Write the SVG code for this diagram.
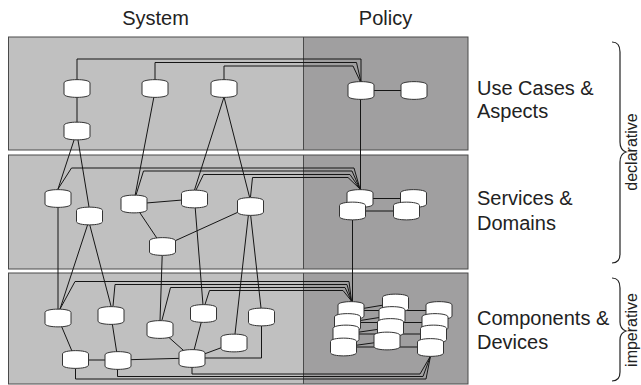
<svg xmlns="http://www.w3.org/2000/svg" xmlns:xlink="http://www.w3.org/1999/xlink" width="641" height="385" viewBox="0 0 641 385">
<style>
.sys{fill:#c0c0c0;stroke:none}
.pol{fill:#a09fa0;stroke:none}
.frame{fill:none;stroke:#4a4a4a;stroke-width:1}
.c{fill:none;stroke:#151515;stroke-width:1}
.n{fill:#fff;stroke:#333;stroke-width:1}
.t{font-family:"Liberation Sans",Arial,sans-serif;font-size:20px;fill:#222}
.v{font-family:"Liberation Sans",Arial,sans-serif;font-size:16px;fill:#222}
.br{fill:none;stroke:#222;stroke-width:1.2}
</style>
<defs>
<path id="cyl" d="M-13,-5.5 C-13,-10 13,-10 13,-5.5 L13,5.5 C13,10 -13,10 -13,5.5 Z"/>
</defs>
<g id="panels">
<rect class="sys" x="8.5" y="37" width="295" height="113"/>
<rect class="pol" x="303.5" y="37" width="164.5" height="113"/>
<rect class="frame" x="8.5" y="37" width="459.5" height="113"/>
<line class="frame" x1="303.5" y1="37" x2="303.5" y2="150"/>
<rect class="sys" x="8.5" y="155" width="295" height="114"/>
<rect class="pol" x="303.5" y="155" width="164.5" height="114"/>
<rect class="frame" x="8.5" y="155" width="459.5" height="114"/>
<line class="frame" x1="303.5" y1="155" x2="303.5" y2="269"/>
<rect class="sys" x="8.5" y="273" width="295" height="111"/>
<rect class="pol" x="303.5" y="273" width="164.5" height="111"/>
<rect class="frame" x="8.5" y="273" width="459.5" height="111"/>
<line class="frame" x1="303.5" y1="273" x2="303.5" y2="384"/>
</g>
<g id="connectors">
<path class="c" d="M77,88 V131"/>
<path class="c" d="M77,80 V59 H361 V82"/>
<path class="c" d="M155,80 V62.5 H356.5 L361,82"/>
<path class="c" d="M224,80 V66 H353 L360.5,82"/>
<path class="c" d="M361,90.5 H414"/>
<path class="c" d="M360.5,90 V199"/>
<path class="c" d="M77,131 L58,189"/>
<path class="c" d="M76.5,131 L89,207"/>
<path class="c" d="M155.5,88.5 L135,196"/>
<path class="c" d="M224,97 L194.5,190"/>
<path class="c" d="M224,97 L249.5,197"/>
<path class="c" d="M58,189 L71.5,168 H354 L360,189"/>
<path class="c" d="M136,195 L143.5,171 H352 L360,189"/>
<path class="c" d="M196,190 L203.5,174.5 H350 L360,189"/>
<path class="c" d="M250.5,197 L252.5,177.5 H348 L360,189"/>
<path class="c" d="M134,204 L194.5,199"/>
<path class="c" d="M134,204 L162.5,246.5"/>
<path class="c" d="M162.5,246.5 L250.5,206.5"/>
<path class="c" d="M360,198.5 H413.5"/>
<path class="c" d="M352.5,211 H406.5"/>
<path class="c" d="M352.5,211 V305"/>
<path class="c" d="M58,198 V318"/>
<path class="c" d="M88.5,222 L60,309"/>
<path class="c" d="M89,222 L111,306"/>
<path class="c" d="M162.5,246 L160,321"/>
<path class="c" d="M194.5,199 L203,305"/>
<path class="c" d="M248.5,214 L235,334"/>
<path class="c" d="M250.5,214 L261,308"/>
<path class="c" d="M60,309 L75,281.5 H349 L351.5,301"/>
<path class="c" d="M113,306 L115,284.5 H347 L351.5,301"/>
<path class="c" d="M162,320 L170.5,287.5 H345 L351.5,301"/>
<path class="c" d="M205,304.5 L209.5,290.5 H343 L351.5,301"/>
<path class="c" d="M58,318 L75.5,359.5"/>
<path class="c" d="M111,315.5 L118,360.5"/>
<path class="c" d="M75.5,360 H118"/>
<path class="c" d="M118,360 L192,358"/>
<path class="c" d="M160,329.5 L192,358"/>
<path class="c" d="M203.5,313.5 L192,358"/>
<path class="c" d="M192,358.5 L234,343"/>
<path class="c" d="M192,358 H261.5 V317"/>
<path class="c" d="M75.5,360 V379 H426 L430.5,356"/>
<path class="c" d="M117.5,361 V376.5 H423 L430.5,356"/>
<path class="c" d="M192,359 V374 H420 L430.5,356"/>
<path class="c" d="M351,310.5 H439"/>
<path class="c" d="M347.5,322.5 H435"/>
<path class="c" d="M346,334 H433.5"/>
<path class="c" d="M343.5,347 H430.5"/>
<path class="c" d="M351,310.5 L395.5,303"/>
<path class="c" d="M347.5,322.5 L392,315.5"/>
<path class="c" d="M346,334 L390.5,327.5"/>
<path class="c" d="M343.5,347 L387,341"/>
</g>
<g id="A1"><use xlink:href="#cyl" class="n" x="77" y="88.5"/></g>
<g id="A2"><use xlink:href="#cyl" class="n" x="77" y="131"/></g>
<g id="A3"><use xlink:href="#cyl" class="n" x="155" y="88.5"/></g>
<g id="A4"><use xlink:href="#cyl" class="n" x="224" y="88.5"/></g>
<g id="A5"><use xlink:href="#cyl" class="n" x="361" y="90.5"/></g>
<g id="A6"><use xlink:href="#cyl" class="n" x="414" y="90.5"/></g>
<g id="B1"><use xlink:href="#cyl" class="n" x="58" y="198.5"/></g>
<g id="B2"><use xlink:href="#cyl" class="n" x="89.5" y="216"/></g>
<g id="B3"><use xlink:href="#cyl" class="n" x="134" y="204"/></g>
<g id="B4"><use xlink:href="#cyl" class="n" x="194.5" y="199"/></g>
<g id="B5"><use xlink:href="#cyl" class="n" x="250.5" y="206.5"/></g>
<g id="B6"><use xlink:href="#cyl" class="n" x="162.5" y="246.5"/></g>
<g id="P1"><use xlink:href="#cyl" class="n" x="360" y="198.5"/></g>
<g id="P3"><use xlink:href="#cyl" class="n" x="413.5" y="198.5"/></g>
<g id="P2"><use xlink:href="#cyl" class="n" x="352.5" y="211"/></g>
<g id="P4"><use xlink:href="#cyl" class="n" x="406.5" y="211"/></g>
<g id="C1"><use xlink:href="#cyl" class="n" x="58" y="318"/></g>
<g id="C2"><use xlink:href="#cyl" class="n" x="111" y="315.5"/></g>
<g id="C3"><use xlink:href="#cyl" class="n" x="160" y="329.5"/></g>
<g id="C4"><use xlink:href="#cyl" class="n" x="203.5" y="313.5"/></g>
<g id="C5"><use xlink:href="#cyl" class="n" x="261.5" y="317"/></g>
<g id="C6"><use xlink:href="#cyl" class="n" x="234" y="343"/></g>
<g id="C7"><use xlink:href="#cyl" class="n" x="75.5" y="359.5"/></g>
<g id="C8"><use xlink:href="#cyl" class="n" x="118" y="360.5"/></g>
<g id="C9"><use xlink:href="#cyl" class="n" x="192" y="358.5"/></g>
<g id="R1"><use xlink:href="#cyl" class="n" x="395.5" y="303"/></g>
<g id="R2"><use xlink:href="#cyl" class="n" x="392" y="315.5"/></g>
<g id="R3"><use xlink:href="#cyl" class="n" x="390.5" y="327.5"/></g>
<g id="R4"><use xlink:href="#cyl" class="n" x="387" y="341"/></g>
<g id="Q1"><use xlink:href="#cyl" class="n" x="351" y="310.5"/></g>
<g id="Q2"><use xlink:href="#cyl" class="n" x="347.5" y="322.5"/></g>
<g id="Q3"><use xlink:href="#cyl" class="n" x="346" y="334"/></g>
<g id="Q4"><use xlink:href="#cyl" class="n" x="343.5" y="347"/></g>
<g id="S1"><use xlink:href="#cyl" class="n" x="439" y="310.5"/></g>
<g id="S2"><use xlink:href="#cyl" class="n" x="435" y="322.5"/></g>
<g id="S3"><use xlink:href="#cyl" class="n" x="433.5" y="334"/></g>
<g id="S4"><use xlink:href="#cyl" class="n" x="430.5" y="347.5"/></g>
<g id="labels">
<text class="t" x="155.5" y="25" text-anchor="middle">System</text>
<text class="t" x="385.5" y="25" text-anchor="middle">Policy</text>
<text class="t" x="477" y="95">Use Cases &amp;</text>
<text class="t" x="477" y="118">Aspects</text>
<text class="t" x="477" y="205">Services &amp;</text>
<text class="t" x="477" y="230">Domains</text>
<text class="t" x="477" y="325">Components &amp;</text>
<text class="t" x="477" y="349">Devices</text>
<text class="v" transform="translate(637,152) rotate(-90)" text-anchor="middle">declarative</text>
<text class="v" transform="translate(637,330) rotate(-90)" text-anchor="middle">imperative</text>
</g>
<g id="braces">
<path class="br" d="M612,42 Q620,42 620,52 V142 Q620,150 626,152 Q620,154 620,162 V254 Q620,263 612,263"/>
<path class="br" d="M612,278 Q620,278 620,288 V322 Q620,329 626,331 Q620,333 620,340 V372 Q620,381 612,381"/>
</g>
</svg>
